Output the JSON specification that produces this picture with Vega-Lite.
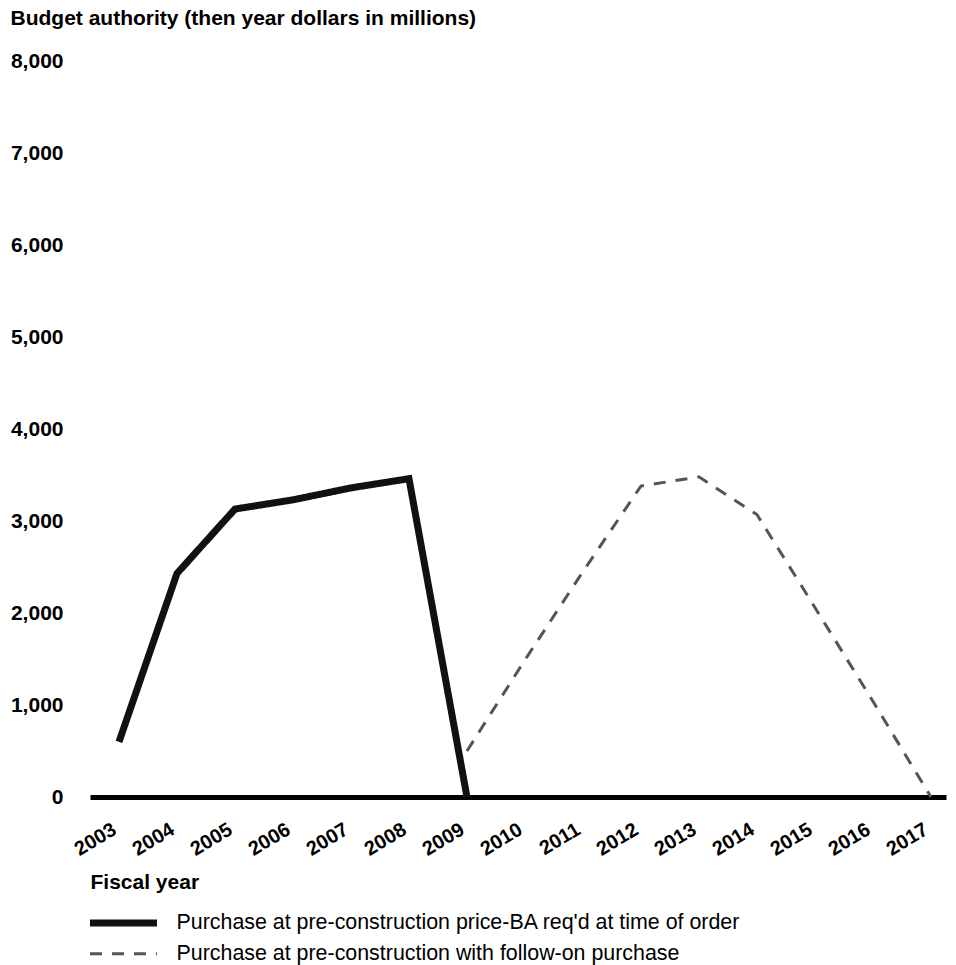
{
  "$schema": "https://vega.github.io/schema/vega-lite/v6.json",
  "width": 856,
  "height": 736,
  "autosize": {"type": "none"},
  "padding": {"left": 90, "top": 61, "right": 10, "bottom": 168},
  "background": "white",
  "config": {
    "view": {"stroke": null},
    "font": "Liberation Sans",
    "legend": {
      "orient": "none",
      "legendX": 21.5,
      "legendY": 850,
      "symbolType": "M-4,0H4",
      "symbolSize": 281,
      "labelFontSize": 21.4,
      "labelColor": "#000000",
      "labelOffset": 41,
      "labelLimit": 0,
      "rowPadding": 5
    }
  },
  "data": {
    "values": [
      {"year": 2003, "value": 600, "series": "Purchase at pre-construction price-BA req'd at time of order"},
      {"year": 2004, "value": 2430, "series": "Purchase at pre-construction price-BA req'd at time of order"},
      {"year": 2005, "value": 3130, "series": "Purchase at pre-construction price-BA req'd at time of order"},
      {"year": 2006, "value": 3230, "series": "Purchase at pre-construction price-BA req'd at time of order"},
      {"year": 2007, "value": 3360, "series": "Purchase at pre-construction price-BA req'd at time of order"},
      {"year": 2008, "value": 3460, "series": "Purchase at pre-construction price-BA req'd at time of order"},
      {"year": 2009, "value": 0, "series": "Purchase at pre-construction price-BA req'd at time of order"},
      {"year": 2009, "value": 500, "series": "Purchase at pre-construction with follow-on purchase"},
      {"year": 2010, "value": 1490, "series": "Purchase at pre-construction with follow-on purchase"},
      {"year": 2011, "value": 2450, "series": "Purchase at pre-construction with follow-on purchase"},
      {"year": 2012, "value": 3380, "series": "Purchase at pre-construction with follow-on purchase"},
      {"year": 2013, "value": 3480, "series": "Purchase at pre-construction with follow-on purchase"},
      {"year": 2014, "value": 3070, "series": "Purchase at pre-construction with follow-on purchase"},
      {"year": 2015, "value": 2060, "series": "Purchase at pre-construction with follow-on purchase"},
      {"year": 2016, "value": 1040, "series": "Purchase at pre-construction with follow-on purchase"},
      {"year": 2017, "value": 0, "series": "Purchase at pre-construction with follow-on purchase"}
    ]
  },
  "mark": {"type": "line", "strokeCap": "butt", "strokeJoin": "miter"},
  "encoding": {
    "x": {
      "field": "year",
      "type": "quantitative",
      "scale": {"domain": [2002.5, 2017.26], "nice": false, "zero": false},
      "axis": {
        "values": [2003, 2004, 2005, 2006, 2007, 2008, 2009, 2010, 2011, 2012, 2013, 2014, 2015, 2016, 2017],
        "format": "d",
        "labelAngle": -31,
        "labelAlign": "right",
        "labelBaseline": "top",
        "labelFontSize": 20,
        "labelFontWeight": "bold",
        "labelColor": "#000000",
        "labelPadding": 22,
        "labelOffset": -10,
        "labelFlush": false,
        "labelOverlap": false,
        "ticks": false,
        "grid": false,
        "domainColor": "#000000",
        "domainWidth": 5,
        "title": "Fiscal year",
        "titleX": 0,
        "titleY": 85,
        "titleAlign": "left",
        "titleAnchor": "start",
        "titleBaseline": "middle",
        "titleFontSize": 21,
        "titleFontWeight": "bold",
        "titleColor": "#000000"
      }
    },
    "y": {
      "field": "value",
      "type": "quantitative",
      "scale": {"domain": [0, 8000], "nice": false},
      "axis": {
        "values": [0, 1000, 2000, 3000, 4000, 5000, 6000, 7000, 8000],
        "format": ",d",
        "domain": false,
        "ticks": false,
        "grid": false,
        "labelPadding": 27,
        "labelFontSize": 21,
        "labelFontWeight": "bold",
        "labelColor": "#000000",
        "title": "Budget authority (then year dollars in millions)",
        "titleAngle": 0,
        "titleX": -80,
        "titleY": -43,
        "titleAlign": "left",
        "titleBaseline": "middle",
        "titleFontSize": 21,
        "titleFontWeight": "bold",
        "titleColor": "#000000"
      }
    },
    "color": {
      "field": "series",
      "type": "nominal",
      "title": null,
      "scale": {
        "domain": ["Purchase at pre-construction price-BA req'd at time of order", "Purchase at pre-construction with follow-on purchase"],
        "range": ["#111111", "#555555"]
      }
    },
    "strokeDash": {
      "field": "series",
      "type": "nominal",
      "title": null,
      "scale": {
        "domain": ["Purchase at pre-construction price-BA req'd at time of order", "Purchase at pre-construction with follow-on purchase"],
        "range": [[1, 0], [12, 10]]
      }
    },
    "strokeWidth": {
      "field": "series",
      "type": "nominal",
      "title": null,
      "scale": {
        "type": "point",
        "padding": 0,
        "domain": ["Purchase at pre-construction price-BA req'd at time of order", "Purchase at pre-construction with follow-on purchase"],
        "range": [7, 3]
      }
    }
  }
}
